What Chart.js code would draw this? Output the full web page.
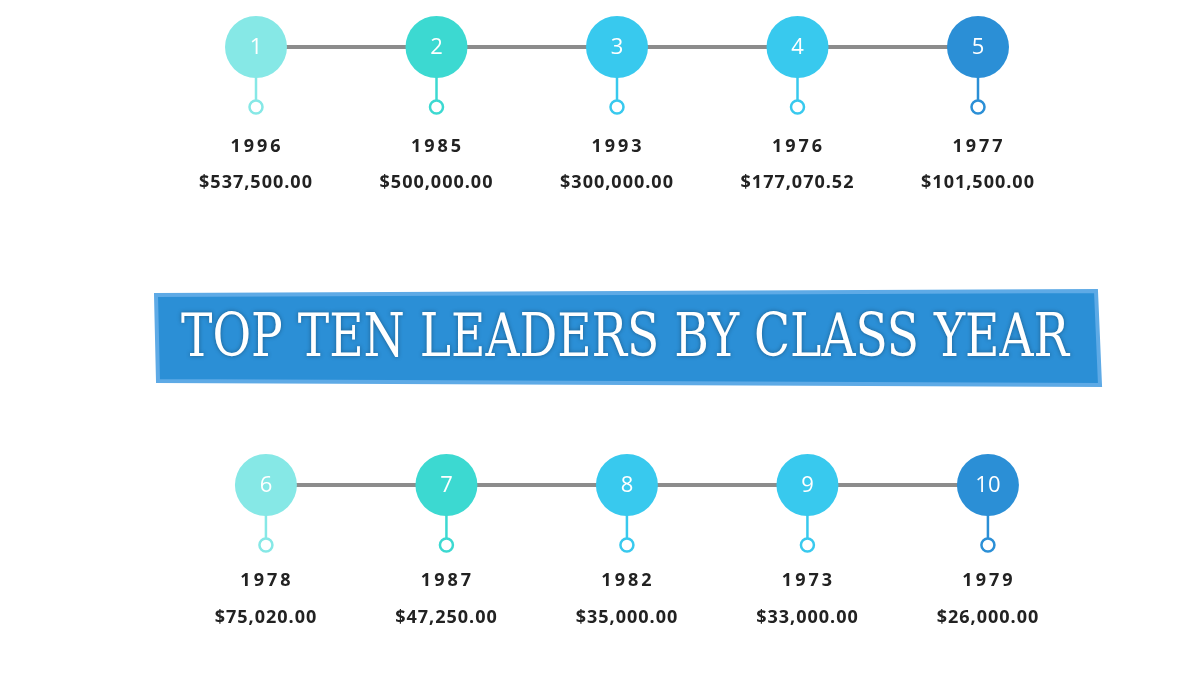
<!DOCTYPE html>
<html>
<head>
<meta charset="utf-8">
<script src="https://cdn.jsdelivr.net/npm/chart.js@4.4.0/dist/chart.umd.min.js"></script>
<style>
  html, body { margin: 0; padding: 0; background: #fff; }
  #wrap { width: 1200px; height: 675px; }
</style>
</head>
<body>
<div id="wrap"><canvas id="myChart"></canvas></div>
<script>
// data
const ranks = [1, 2, 3, 4, 5, 6, 7, 8, 9, 10];
const classYears = ['1996', '1985', '1993', '1976', '1977', '1978', '1987', '1982', '1973', '1979'];
const amounts = ['$537,500.00', '$500,000.00', '$300,000.00', '$177,070.52', '$101,500.00',
                 '$75,020.00', '$47,250.00', '$35,000.00', '$33,000.00', '$26,000.00'];
const title = 'TOP TEN LEADERS BY CLASS YEAR';

const colColors = ['#86e8e6', '#3cd9d1', '#38c9ee', '#38c9ee', '#2b8fd6'];
const rowY = [47, 485];
const rowShift = [0, 0.055];

function pos(i) {
  const row = Math.floor(i / 5);
  return { x: (i % 5) + rowShift[row], y: rowY[row], row: row, col: i % 5 };
}

const bigPts = ranks.map((r, i) => ({ x: pos(i).x, y: pos(i).y }));
const smallPts = ranks.map((r, i) => ({ x: pos(i).x, y: pos(i).y + 60 }));
const datasets = [];

// connector lines per row
[0, 1].forEach(row => {
  datasets.push({
    type: 'line',
    data: bigPts.slice(row * 5, row * 5 + 5),
    borderColor: '#8c8c8c', borderWidth: 4, pointRadius: 0, order: 5
  });
});
// stems
ranks.forEach((r, i) => {
  datasets.push({
    type: 'line',
    data: [bigPts[i], smallPts[i]],
    borderColor: colColors[i % 5], borderWidth: 2.5, pointRadius: 0, order: 4
  });
});
// small rings
datasets.push({
  type: 'scatter', data: smallPts, order: 2,
  pointRadius: 6.5, pointBackgroundColor: '#fff',
  pointBorderColor: ranks.map((r, i) => colColors[i % 5]), pointBorderWidth: 2.5
});
// big circles
datasets.push({
  type: 'scatter', data: bigPts, order: 1,
  pointRadius: 31, pointBackgroundColor: ranks.map((r, i) => colColors[i % 5]),
  pointBorderWidth: 0
});

const textPlugin = {
  id: 'texts',
  afterDatasetsDraw(chart) {
    const ctx = chart.ctx;
    const xs = chart.scales.x, ys = chart.scales.y;
    ctx.save();
    ctx.textAlign = 'center';
    ctx.textBaseline = 'middle';
    ranks.forEach((r, i) => {
      const p = pos(i);
      const px = xs.getPixelForValue(p.x);
      const py = ys.getPixelForValue(p.y);
      ctx.fillStyle = '#ffffff';
      ctx.font = '22px "Open Sans", sans-serif';
      ctx.letterSpacing = '0px';
      ctx.fillText(String(r), px, py + 1);
      ctx.fillStyle = '#222222';
      ctx.font = 'bold 18px "Open Sans", sans-serif';
      ctx.letterSpacing = '3px';
      ctx.fillText(classYears[i], px + 1, py + (p.row ? 96 : 100));
      ctx.letterSpacing = '1px';
      ctx.fillText(amounts[i], px, py + (p.row ? 133 : 136));
    });
    // banner
    ctx.letterSpacing = '0px';
    ctx.beginPath();
    ctx.moveTo(156, 295); ctx.lineTo(1096, 291); ctx.lineTo(1100, 385); ctx.lineTo(158, 381);
    ctx.closePath();
    ctx.fillStyle = '#2b8fd6';
    ctx.fill();
    ctx.strokeStyle = '#5eaae6';
    ctx.lineWidth = 4;
    ctx.stroke();
    ctx.font = '60px "DejaVu Serif Condensed", "Liberation Serif", serif';
    const w = ctx.measureText(title).width;
    ctx.translate(625, 340);
    ctx.scale(888 / w, 1);
    ctx.shadowColor = 'rgba(0,0,0,0.35)';
    ctx.shadowBlur = 4;
    ctx.fillStyle = '#ffffff';
    ctx.fillText(title, 0, 0);
    ctx.restore();
  }
};

new Chart(document.getElementById('myChart'), {
  type: 'scatter',
  data: { datasets: datasets },
  options: {
    responsive: true, maintainAspectRatio: false, animation: false,
    layout: { padding: 0, autoPadding: false },
    plugins: { legend: { display: false }, tooltip: { enabled: false } },
    scales: {
      x: { type: 'linear', display: false, min: -256 / 180.5, max: -256 / 180.5 + 1200 / 180.5 },
      y: { type: 'linear', display: false, min: 0, max: 675, reverse: true }
    }
  },
  plugins: [textPlugin]
});
</script>
</body>
</html>
